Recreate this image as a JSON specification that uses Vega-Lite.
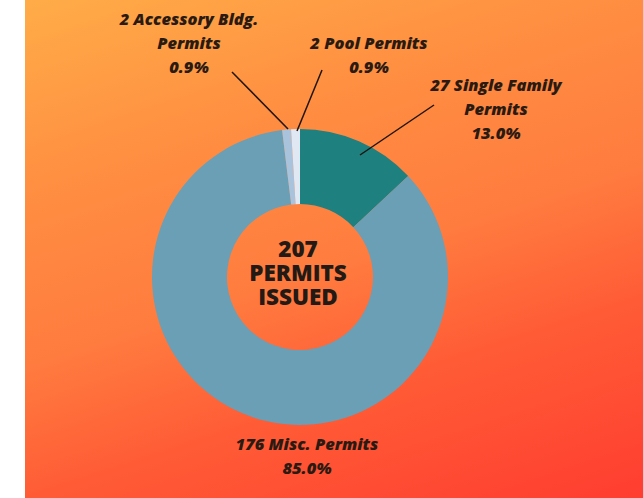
{
  "$schema": "https://vega.github.io/schema/vega-lite/v6.json",
  "width": 643,
  "height": 498,
  "autosize": {"type": "fit", "contains": "padding"},
  "padding": {"left": 25, "top": 0, "right": 0, "bottom": 0},
  "background": "#ffffff",
  "config": {
    "view": {
      "stroke": null,
      "fill": {
        "gradient": "linear",
        "x1": 0, "y1": 0, "x2": 0.49, "y2": 1.21,
        "stops": [
          {"offset": 0, "color": "#ffac48"},
          {"offset": 0.3, "color": "#ff8c41"},
          {"offset": 0.52, "color": "#ff7c3f"},
          {"offset": 0.71, "color": "#ff5c36"},
          {"offset": 1, "color": "#ff3d30"}
        ]
      }
    }
  },
  "data": {
    "values": [
      {"category": "Single Family", "count": 27, "order": 1, "label": "27 Single Family\nPermits\n13.0%"},
      {"category": "Misc.", "count": 176, "order": 2, "label": "176 Misc. Permits\n85.0%"},
      {"category": "Accessory Bldg.", "count": 2, "order": 3, "label": "2 Accessory Bldg.\nPermits\n0.9%"},
      {"category": "Pool", "count": 2, "order": 4, "label": "2 Pool Permits\n0.9%"}
    ]
  },
  "layer": [
    {
      "mark": {"type": "arc", "outerRadius": 148, "innerRadius": 73},
      "encoding": {
        "theta": {"field": "count", "type": "quantitative", "stack": true},
        "order": {"field": "order", "type": "quantitative"},
        "color": {
          "field": "category",
          "type": "nominal",
          "scale": {
            "domain": ["Single Family", "Misc.", "Accessory Bldg.", "Pool"],
            "range": ["#1f8080", "#6a9fb6", "#a9c3dc", "#e0e8f3"]
          },
          "legend": null
        },
        "x": {"datum": 0, "type": "quantitative", "scale": {"domain": [-275, 343], "nice": false, "zero": false}, "axis": null},
        "y": {"datum": 0, "type": "quantitative", "scale": {"domain": [-221, 277], "nice": false, "zero": false}, "axis": null}
      }
    },
    {
      "transform": [{"filter": "datum.category === 'Accessory Bldg.'"}],
      "mark": {"type": "rule", "color": "#1e1410", "strokeWidth": 1.5},
      "encoding": {
        "x": {"datum": -68, "type": "quantitative"},
        "y": {"datum": 205, "type": "quantitative"},
        "x2": {"datum": -12},
        "y2": {"datum": 148}
      }
    },
    {
      "transform": [{"filter": "datum.category === 'Pool'"}],
      "mark": {"type": "rule", "color": "#1e1410", "strokeWidth": 1.5},
      "encoding": {
        "x": {"datum": 22, "type": "quantitative"},
        "y": {"datum": 207, "type": "quantitative"},
        "x2": {"datum": -3},
        "y2": {"datum": 146}
      }
    },
    {
      "transform": [{"filter": "datum.category === 'Single Family'"}],
      "mark": {"type": "rule", "color": "#1e1410", "strokeWidth": 1.5},
      "encoding": {
        "x": {"datum": 134, "type": "quantitative"},
        "y": {"datum": 172, "type": "quantitative"},
        "x2": {"datum": 60},
        "y2": {"datum": 122}
      }
    },
    {
      "transform": [{"filter": "datum.category === 'Accessory Bldg.'"}],
      "mark": {"type": "text", "font": "Open Sans", "fontWeight": 800, "fontStyle": "italic", "fontSize": 16.5, "lineBreak": "\n", "lineHeight": 24, "align": "center", "baseline": "middle", "color": "#2a1a12"},
      "encoding": {
        "text": {"field": "label"},
        "x": {"datum": -111, "type": "quantitative"},
        "y": {"datum": 257, "type": "quantitative"}
      }
    },
    {
      "transform": [{"filter": "datum.category === 'Pool'"}],
      "mark": {"type": "text", "font": "Open Sans", "fontWeight": 800, "fontStyle": "italic", "fontSize": 16.5, "lineBreak": "\n", "lineHeight": 24, "align": "center", "baseline": "middle", "color": "#2a1a12"},
      "encoding": {
        "text": {"field": "label"},
        "x": {"datum": 69, "type": "quantitative"},
        "y": {"datum": 233, "type": "quantitative"}
      }
    },
    {
      "transform": [{"filter": "datum.category === 'Single Family'"}],
      "mark": {"type": "text", "font": "Open Sans", "fontWeight": 800, "fontStyle": "italic", "fontSize": 16.5, "lineBreak": "\n", "lineHeight": 24, "align": "center", "baseline": "middle", "color": "#2a1a12"},
      "encoding": {
        "text": {"field": "label"},
        "x": {"datum": 196, "type": "quantitative"},
        "y": {"datum": 191, "type": "quantitative"}
      }
    },
    {
      "transform": [{"filter": "datum.category === 'Misc.'"}],
      "mark": {"type": "text", "font": "Open Sans", "fontWeight": 800, "fontStyle": "italic", "fontSize": 16.5, "lineBreak": "\n", "lineHeight": 24, "align": "center", "baseline": "middle", "color": "#2a1a12"},
      "encoding": {
        "text": {"field": "label"},
        "x": {"datum": 7, "type": "quantitative"},
        "y": {"datum": -168, "type": "quantitative"}
      }
    },
    {
      "transform": [{"aggregate": [{"op": "sum", "field": "count", "as": "total"}]}],
      "mark": {"type": "text", "font": "Open Sans", "fontWeight": 800, "fontSize": 22.5, "lineHeight": 24, "align": "center", "baseline": "middle", "color": "#231a15"},
      "encoding": {
        "text": {"value": ["207", "PERMITS", "ISSUED"]},
        "x": {"datum": -2, "type": "quantitative"},
        "y": {"datum": 27, "type": "quantitative"}
      }
    }
  ]
}
